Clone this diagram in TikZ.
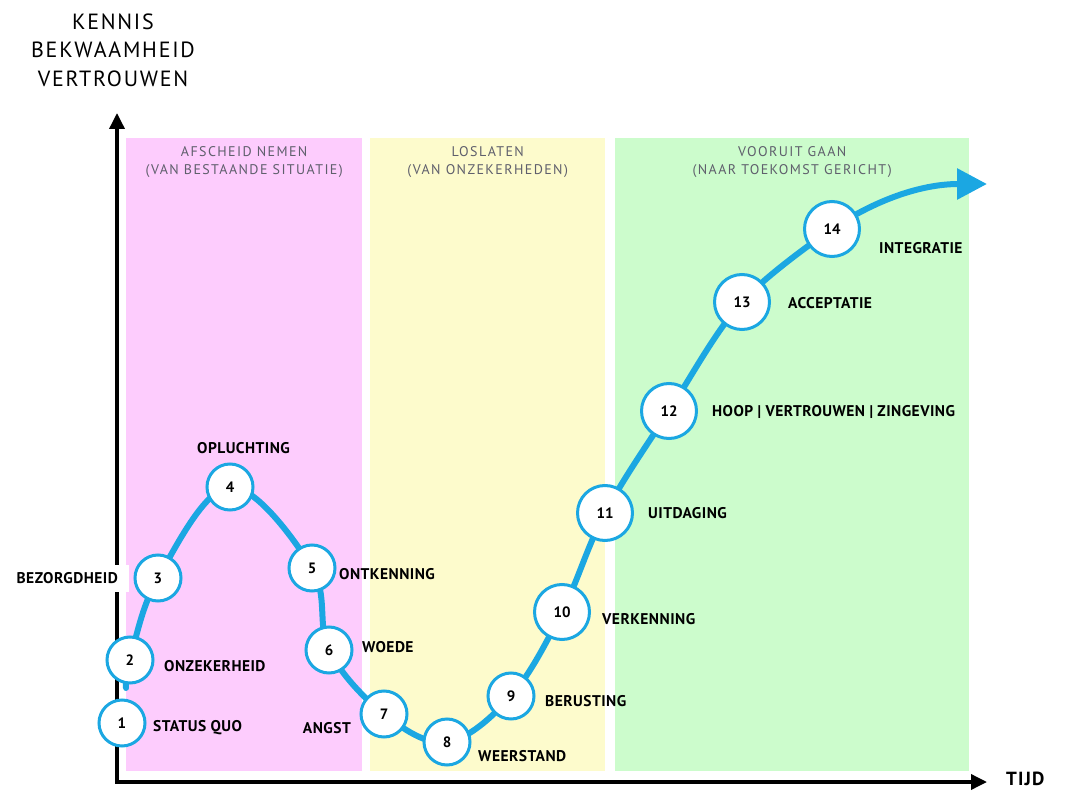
\documentclass[tikz,border=0pt]{standalone}
\usepackage{fontspec}
\setmainfont{PT Sans}
\usetikzlibrary{arrows.meta,positioning}
\definecolor{curveblue}{RGB}{27,167,226}
\definecolor{panelpink}{RGB}{253,204,253}
\definecolor{panelyellow}{RGB}{253,251,204}
\definecolor{panelgreen}{RGB}{204,252,204}
\definecolor{titlegray}{RGB}{95,95,108}
\newcommand{\spaced}[1]{\addfontfeatures{LetterSpace=#1}}
\pgfdeclarelayer{panels}
\pgfdeclarelayer{track}
\pgfsetlayers{panels,track,main}

\begin{document}
\begin{tikzpicture}[
  x=1pt, y=-1pt,
  stage/.style={circle, draw=curveblue, line width=3pt, fill=white, minimum size=46pt, inner sep=0pt, font=\fontsize{15}{15}\selectfont\bfseries},
  bigstage/.style={stage, minimum size=55pt},
  lab/.style={anchor=west, inner sep=0pt, font=\fontsize{15.5}{16}\selectfont\bfseries\spaced{3}},
  title/.style={align=center, inner sep=0pt, text=titlegray, font=\fontsize{14}{18}\selectfont\spaced{10}},
  panel/.style={draw=none, inner sep=0pt, anchor=north west, minimum height=633pt},
  axis/.style={line width=3.5pt, {Triangle[length=16pt,width=15pt]}-{Triangle[length=16pt,width=15pt]}},
  track/.style={curveblue, line width=6pt, line cap=round}
]
\useasboundingbox (0,0) rectangle (1073,791);

% the three phases
\begin{pgfonlayer}{panels}
\node[panel, fill=panelpink, minimum width=236pt] (afscheid) at (126,138) {};
\node[panel, fill=panelyellow, minimum width=235pt] (loslaten) at (370,138) {};
\node[panel, fill=panelgreen, minimum width=354pt] (vooruit) at (615,138) {};
\node[title, below=8pt of afscheid.north] {AFSCHEID NEMEN\\(VAN BESTAANDE SITUATIE)};
\node[title, below=8pt of loslaten.north] {LOSLATEN\\(VAN ONZEKERHEDEN)};
\node[title, below=8pt of vooruit.north] {VOORUIT GAAN\\(NAAR TOEKOMST GERICHT)};

% axes
\coordinate (origin) at (117,782);
\coordinate (ytip) at (117,113);
\coordinate (xtip) at (987,782);
\draw[axis] (ytip) -- (origin) -- (xtip);
\end{pgfonlayer}

\node[align=center, inner sep=0pt, font=\fontsize{22}{28.5}\selectfont\spaced{8}] (yaxis) at (113,50) {KENNIS\\BEKWAAMHEID\\VERTROUWEN};
\node[lab, font=\fontsize{19}{19}\selectfont\bfseries\spaced{6}] (xaxis) at (1006,779) {TIJD};

\node[lab, anchor=east, fill=white, inner xsep=11pt, minimum height=27pt] (bezorgd) at (129,578) {BEZORGDHEID};

% stages
\node[stage] (s1) at (122,723) {1};
\node[stage] (s2) at (130,660) {2};
\node[stage] (s3) at (158,578) {3};
\node[stage] (s4) at (230,487) {4};
\node[stage] (s5) at (312,568) {5};
\node[stage] (s6) at (329,650) {6};
\node[stage] (s7) at (384,714) {7};
\node[stage] (s8) at (447,742) {8};
\node[stage] (s9) at (511,696) {9};
\node[bigstage] (s10) at (562,612) {10};
\node[bigstage] (s11) at (605,513) {11};
\node[bigstage] (s12) at (669,411) {12};
\node[bigstage] (s13) at (742,302) {13};
\node[bigstage] (s14) at (832,229) {14};

\node[lab] (statusquo) at (153,728) {STATUS QUO};
\node[lab] (onzeker) at (164,666) {ONZEKERHEID};
\node[lab] (opluchting) at (197,448) {OPLUCHTING};
\node[lab] (ontkenning) at (339,574) {ONTKENNING};
\node[lab] (woede) at (362,647) {WOEDE};
\node[lab, anchor=east] (angst) at (351,728) {ANGST};
\node[lab] (weerstand) at (478,756) {WEERSTAND};
\node[lab] (berusting) at (545,701) {BERUSTING};
\node[lab] (verkenning) at (602,619) {VERKENNING};
\node[lab] (uitdaging) at (648,513) {UITDAGING};
\node[lab] (hoop) at (712,412) {HOOP | VERTROUWEN | ZINGEVING};
\node[lab] (acceptatie) at (788,303) {ACCEPTATIE};
\node[lab] (integratie) at (879,248) {INTEGRATIE};

% the curve behind the stages
\coordinate (tail) at (126,688);
\coordinate (tip) at (987,184);
\begin{pgfonlayer}{track}
\draw[track] plot[smooth, tension=0.6] coordinates {(tail) (s2.center) (s3.center) (s4.center) (s5.center) (s6.center) (s7.center) (s8.center) (s9.center) (s10.center) (s11.center) (s12.center) (s13.center) (s14.center)};
\draw[track, line cap=butt, -{Triangle[length=30pt,width=30pt]}] (s14.center) .. controls (880,197) and (925,184) .. (tip);
\end{pgfonlayer}
\end{tikzpicture}
\end{document}
